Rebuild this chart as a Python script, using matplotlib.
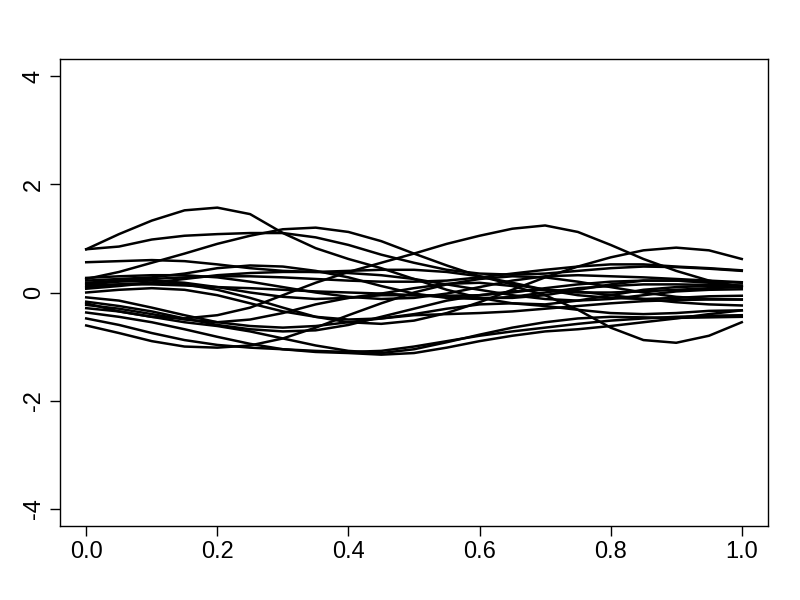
import numpy as np
import matplotlib
matplotlib.use("Agg")
import matplotlib.pyplot as plt

plt.rcParams['font.family'] = ['Liberation Sans', 'DejaVu Sans']

x = np.linspace(0, 1, 21)

c1 = [0.80, 1.08, 1.33, 1.52, 1.57, 1.45, 1.10, 0.82, 0.62, 0.45, 0.25, 0.05, -0.10, -0.20, -0.22, -0.15, -0.05, 0.05, 0.10, 0.12, 0.12]
c2 = [0.80, 0.85, 0.98, 1.05, 1.08, 1.10, 1.10, 1.02, 0.88, 0.70, 0.55, 0.42, 0.35, 0.33, 0.35, 0.40, 0.45, 0.48, 0.47, 0.44, 0.40]
c3 = [0.25, 0.38, 0.55, 0.72, 0.90, 1.05, 1.17, 1.20, 1.12, 0.95, 0.72, 0.50, 0.30, 0.15, 0.05, 0.00, 0.00, 0.02, 0.05, 0.08, 0.10]
c4 = [-0.20, -0.35, -0.45, -0.48, -0.42, -0.28, -0.05, 0.18, 0.38, 0.55, 0.72, 0.90, 1.05, 1.18, 1.24, 1.12, 0.88, 0.62, 0.40, 0.22, 0.10]
c5 = [0.10, 0.15, 0.18, 0.15, 0.05, -0.10, -0.28, -0.45, -0.55, -0.58, -0.52, -0.38, -0.18, 0.05, 0.28, 0.48, 0.65, 0.78, 0.83, 0.78, 0.62]
c6 = [0.15, 0.20, 0.22, 0.18, 0.10, 0.00, -0.08, -0.12, -0.10, -0.02, 0.08, 0.16, 0.18, 0.12, -0.05, -0.32, -0.65, -0.88, -0.93, -0.80, -0.55]
c7 = [-0.61, -0.75, -0.90, -1.00, -1.02, -0.98, -0.85, -0.65, -0.42, -0.20, 0.00, 0.15, 0.25, 0.30, 0.28, 0.20, 0.10, 0.00, -0.08, -0.12, -0.13]
c8 = [-0.48, -0.60, -0.75, -0.88, -0.97, -1.02, -1.05, -1.08, -1.10, -1.08, -1.00, -0.90, -0.80, -0.72, -0.65, -0.58, -0.52, -0.48, -0.45, -0.43, -0.42]
c9 = [-0.37, -0.45, -0.55, -0.68, -0.82, -0.95, -1.05, -1.10, -1.12, -1.15, -1.12, -1.02, -0.90, -0.80, -0.72, -0.68, -0.62, -0.55, -0.48, -0.40, -0.33]
c10 = [-0.29, -0.35, -0.45, -0.55, -0.62, -0.72, -0.85, -0.98, -1.08, -1.12, -1.05, -0.92, -0.78, -0.65, -0.55, -0.48, -0.45, -0.46, -0.47, -0.46, -0.45]
c11 = [-0.23, -0.30, -0.40, -0.50, -0.55, -0.50, -0.38, -0.22, -0.10, -0.05, -0.05, -0.08, -0.10, -0.10, -0.05, 0.05, 0.15, 0.22, 0.22, 0.18, 0.12]
c12 = [-0.17, -0.25, -0.35, -0.48, -0.60, -0.68, -0.72, -0.70, -0.60, -0.45, -0.30, -0.15, -0.05, 0.02, 0.05, 0.02, -0.05, -0.12, -0.18, -0.22, -0.24]
c13 = [-0.09, -0.15, -0.28, -0.42, -0.55, -0.62, -0.65, -0.62, -0.55, -0.48, -0.42, -0.40, -0.38, -0.35, -0.30, -0.25, -0.20, -0.16, -0.14, -0.13, -0.13]
c14 = [0.00, 0.05, 0.08, 0.05, -0.05, -0.20, -0.35, -0.45, -0.50, -0.48, -0.40, -0.30, -0.22, -0.20, -0.25, -0.32, -0.38, -0.40, -0.38, -0.34, -0.33]
c15 = [0.07, 0.12, 0.18, 0.25, 0.32, 0.36, 0.38, 0.38, 0.36, 0.32, 0.25, 0.15, 0.05, -0.05, -0.12, -0.15, -0.12, -0.05, 0.02, 0.05, 0.06]
c16 = [0.13, 0.15, 0.15, 0.13, 0.10, 0.08, 0.05, 0.02, 0.00, -0.02, -0.05, -0.06, -0.05, 0.00, 0.08, 0.15, 0.20, 0.22, 0.22, 0.20, 0.18]
c17 = [0.18, 0.22, 0.25, 0.28, 0.30, 0.30, 0.28, 0.25, 0.22, 0.20, 0.20, 0.22, 0.28, 0.35, 0.42, 0.48, 0.52, 0.52, 0.48, 0.45, 0.41]
c18 = [0.22, 0.25, 0.28, 0.35, 0.45, 0.50, 0.48, 0.40, 0.28, 0.12, -0.02, -0.10, -0.12, -0.08, 0.00, 0.08, 0.12, 0.15, 0.15, 0.14, 0.13]
c19 = [0.27, 0.30, 0.32, 0.32, 0.28, 0.20, 0.10, 0.00, -0.08, -0.12, -0.10, -0.02, 0.10, 0.22, 0.30, 0.32, 0.30, 0.28, 0.25, 0.22, 0.19]
c20 = [0.56, 0.58, 0.60, 0.58, 0.52, 0.45, 0.40, 0.38, 0.40, 0.42, 0.42, 0.38, 0.30, 0.18, 0.05, -0.05, -0.10, -0.12, -0.10, -0.07, -0.06]

curves = [c1, c2, c3, c4, c5, c6, c7, c8, c9, c10,
          c11, c12, c13, c14, c15, c16, c17, c18, c19, c20]

fig = plt.figure(figsize=(8, 6), dpi=100)
ax = fig.add_axes([0.075, 0.1233, 0.885, 0.7784])

for c in curves:
    ax.plot(x, c, color='black', linewidth=1.8)

ax.set_xlim(-0.04, 1.04)
ax.set_ylim(-4.32, 4.32)
ax.set_xticks([0.0, 0.2, 0.4, 0.6, 0.8, 1.0])
ax.set_xticklabels(['0.0', '0.2', '0.4', '0.6', '0.8', '1.0'])
ax.set_yticks([-4, -2, 0, 2, 4])
ax.set_yticklabels(['-4', '-2', '0', '2', '4'], rotation=90, va='center')

ax.tick_params(direction='out', length=7, width=1, labelsize=17, pad=4)
for s in ax.spines.values():
    s.set_linewidth(1)

fig.savefig('out.png', dpi=100)
